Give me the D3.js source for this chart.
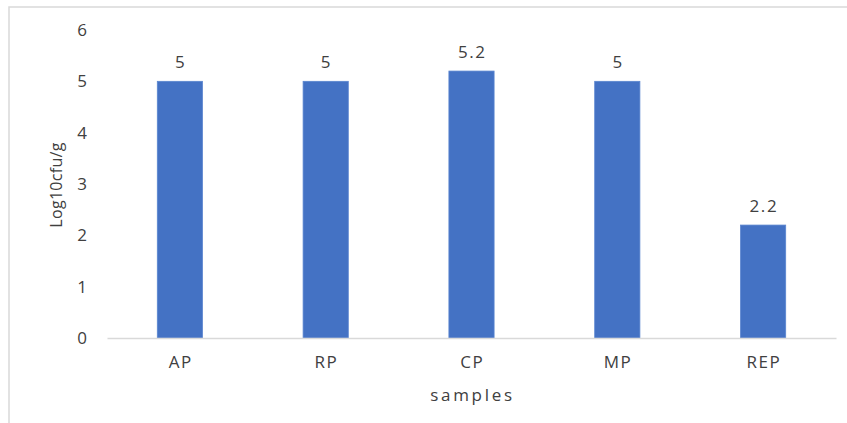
<!DOCTYPE html>
<html>
<head>
<meta charset="utf-8">
<script src="https://cdn.jsdelivr.net/npm/d3@7"></script>
<style>
  html, body { margin: 0; padding: 0; background: #fff; }
  svg { display: block; }
  text { font-family: "Open Sans", sans-serif; fill: #404040; }
</style>
</head>
<body>
<script>
// Bacterial counts per sample (log10 cfu/g)
const categories = ["AP", "RP", "CP", "MP", "REP"];
const values = [5, 5, 5.2, 5, 2.2];
const yTicks = [0, 1, 2, 3, 4, 5, 6];
const xTitle = "samples";
const yTitle = "Log10cfu/g";

const W = 847, H = 423;
const svg = d3.select("body").append("svg").attr("width", W).attr("height", H);

// chart frame (only the top and left edges fall inside the window)
svg.append("rect")
  .attr("x", 9).attr("y", 7)
  .attr("width", W + 20).attr("height", H + 20)
  .attr("fill", "none")
  .attr("stroke", "#d9d9d9")
  .attr("stroke-width", 1.5);

const x = d3.scaleBand()
  .domain(categories)
  .range([107, 836])
  .paddingInner(0.69)
  .paddingOuter(0.345);

const y = d3.scaleLinear().domain([0, 6]).range([338, 30]);

// y axis labels
const yAxis = svg.append("g")
  .attr("transform", "translate(107,0)")
  .call(d3.axisLeft(y).tickValues(yTicks).tickFormat(d3.format("d")).tickSize(0).tickPadding(20));
yAxis.select(".domain").remove();
yAxis.selectAll("text")
  .style("font-family", "'Open Sans', sans-serif")
  .style("font-size", "17px")
  .attr("fill", "#404040");

// bars
svg.append("g").selectAll("rect")
  .data(values)
  .join("rect")
  .attr("x", (d, i) => x(categories[i]))
  .attr("width", x.bandwidth())
  .attr("y", d => y(d))
  .attr("height", d => y(0) - y(d))
  .attr("fill", "#4472c4")
  .attr("stroke", "#5b86d0")
  .attr("stroke-width", 0.8);

// value labels
svg.append("g").selectAll("text")
  .data(values)
  .join("text")
  .attr("x", (d, i) => x(categories[i]) + x.bandwidth() / 2 + 0.8)
  .attr("y", d => y(d) - 13.5)
  .attr("text-anchor", "middle")
  .style("font-size", "17px")
  .style("letter-spacing", "1.6px")
  .text(d => d);

// x axis with baseline
const xAxis = svg.append("g")
  .attr("transform", "translate(0,338)")
  .call(d3.axisBottom(x).tickSize(0).tickPadding(18));
xAxis.select(".domain").attr("stroke", "#d9d9d9").attr("stroke-width", 1.5);
xAxis.selectAll("text")
  .style("font-family", "'Open Sans', sans-serif")
  .style("font-size", "17px")
  .style("letter-spacing", "1.5px")
  .attr("dx", "0.75px")
  .attr("fill", "#404040");

// axis titles
svg.append("text")
  .attr("x", 472.5).attr("y", 401)
  .attr("text-anchor", "middle")
  .style("font-size", "17px")
  .style("letter-spacing", "2.7px")
  .text(xTitle);

svg.append("text")
  .attr("transform", "translate(62,185) rotate(-90)")
  .attr("text-anchor", "middle")
  .style("font-size", "16px")
  .style("letter-spacing", "0.3px")
  .text(yTitle);
</script>
</body>
</html>
